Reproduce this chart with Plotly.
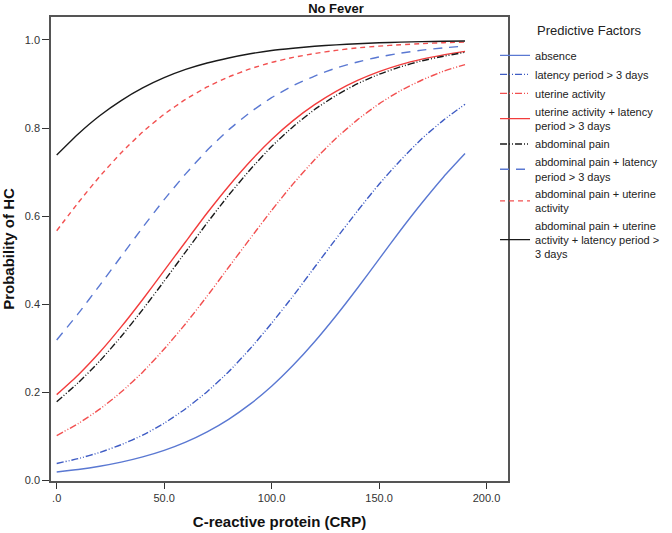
import plotly.graph_objects as go

crp = [0, 10, 20, 30, 40, 50, 60, 70, 80, 90, 100, 110, 120, 130, 140, 150, 160, 170, 180, 190]

names = [
    "absence",
    "latency period > 3 days",
    "uterine activity",
    "uterine activity + latency<br>period > 3 days",
    "abdominal pain",
    "abdominal pain + latency<br>period > 3 days",
    "abdominal pain + uterine<br>activity",
    "abdominal pain + uterine<br>activity + latency period ><br>3 days",
]

p_absence = [0.0195, 0.0251, 0.0324, 0.0417, 0.0536, 0.0685, 0.0872, 0.1105, 0.139, 0.1734,
             0.214, 0.2615, 0.315, 0.374, 0.437, 0.5025, 0.568, 0.6304, 0.689, 0.742]
p_latency = [0.0388, 0.0498, 0.0638, 0.0814, 0.103, 0.130, 0.163, 0.2017, 0.247, 0.299,
             0.357, 0.4187, 0.484, 0.5488, 0.612, 0.6726, 0.727, 0.7763, 0.818, 0.854]
p_uterine = [0.102, 0.1293, 0.162, 0.2008, 0.246, 0.2984, 0.356, 0.4185, 0.484, 0.549,
             0.613, 0.6733, 0.728, 0.777, 0.819, 0.855, 0.885, 0.909, 0.929, 0.944]
p_ut_lat = [0.195, 0.2396, 0.291, 0.3487, 0.411, 0.4763, 0.542, 0.6071, 0.668, 0.7241,
            0.774, 0.8168, 0.853, 0.8834, 0.908, 0.9279, 0.944, 0.9563, 0.966, 0.974]
p_abd = [0.179, 0.222, 0.271, 0.3269, 0.388, 0.4526, 0.519, 0.5847, 0.6475, 0.7055,
         0.758, 0.8031, 0.842, 0.8741, 0.9006, 0.922, 0.939, 0.9527, 0.963, 0.972]
p_abd_lat = [0.319, 0.3787, 0.443, 0.5087, 0.5744, 0.6376, 0.696, 0.7494, 0.796, 0.8355,
             0.869, 0.8961, 0.918, 0.9362, 0.950, 0.9614, 0.970, 0.9769, 0.982, 0.986]
p_abd_ut = [0.567, 0.6306, 0.690, 0.7437, 0.791, 0.8313, 0.865, 0.8933, 0.916, 0.9343,
            0.949, 0.9603, 0.969, 0.9763, 0.982, 0.9859, 0.989, 0.9916, 0.9936, 0.995]
p_all = [0.739, 0.7867, 0.828, 0.8624, 0.891, 0.9142, 0.933, 0.9476, 0.959, 0.9685,
         0.976, 0.9812, 0.9855, 0.9888, 0.9914, 0.9934, 0.9949, 0.9961, 0.997, 0.9977]

series = [p_absence, p_latency, p_uterine, p_ut_lat, p_abd, p_abd_lat, p_abd_ut, p_all]

BLUE = "#5a78d2"
DBLUE = "#3f5cc4"
RED = "#f23c3c"
LRED = "#f25050"
BLACK = "#1a1a1a"
DDOT = "7px,2px,1px,2px,1px,2px"
styles = [
    (BLUE, "solid"),
    (DBLUE, DDOT),
    (LRED, DDOT),
    (RED, "solid"),
    (BLACK, DDOT),
    (BLUE, "9px,7px"),
    (LRED, "5px,4px"),
    (BLACK, "solid"),
]

fig = go.Figure()
for nm, ys, (col, dash) in zip(names, series, styles):
    fig.add_trace(go.Scatter(
        x=crp, y=ys, mode="lines", name=nm,
        line=dict(color=col, dash=dash, width=1.4, shape="spline", smoothing=0.5),
    ))

FONT = "Liberation Sans, Arial, sans-serif"
fig.update_layout(
    width=672, height=533,
    margin=dict(l=51, r=164, t=17, b=52, autoexpand=False),
    paper_bgcolor="white", plot_bgcolor="white",
    font=dict(family=FONT, size=11, color="#222"),
    title=dict(text="<b>No Fever</b>", x=0.5, xref="container", y=1 - 8.5 / 533, yref="container",
               yanchor="middle", xanchor="center",
               font=dict(size=13, color="#111", family=FONT)),
    xaxis=dict(
        range=[-2.65, 210], showgrid=False, zeroline=False,
        tickvals=[0, 50, 100, 150, 200], ticktext=[".0", "50.0", "100.0", "150.0", "200.0"],
        ticks="outside", ticklen=6, tickcolor="#333", tickwidth=1,
        showline=True, mirror=True, linecolor="#555", linewidth=1.5,
        tickfont=dict(size=11, color="#333"),
        title=dict(text="<b>C-reactive protein (CRP)</b>", font=dict(size=15, color="#111"), standoff=14),
    ),
    yaxis=dict(
        range=[-0.001, 1.052], showgrid=False, zeroline=False,
        tickvals=[0, 0.2, 0.4, 0.6, 0.8, 1.0], ticktext=["0.0", "0.2", "0.4", "0.6", "0.8", "1.0"],
        ticks="outside", ticklen=7, tickcolor="#333", tickwidth=1,
        showline=True, mirror=True, linecolor="#555", linewidth=1.5,
        tickfont=dict(size=11, color="#333"),
        title=dict(text="<b>Probability of HC</b>", font=dict(size=15, color="#111"), standoff=16),
    ),
    legend=dict(
        x=0.9716, xanchor="left", y=0.9486, yanchor="top",
        font=dict(size=11, color="#222"),
        itemwidth=30, tracegroupgap=0, bgcolor="rgba(0,0,0,0)",
    ),
    annotations=[dict(
        text="Predictive Factors", xref="paper", yref="paper",
        x=(535 - 51) / 457, y=(481 - 31) / 464, xanchor="left", yanchor="middle",
        showarrow=False, font=dict(size=13, color="#222", family=FONT),
    )],
)

fig.write_html("out.html", post_script="document.body.style.margin='0';",
               config={"displayModeBar": False})
